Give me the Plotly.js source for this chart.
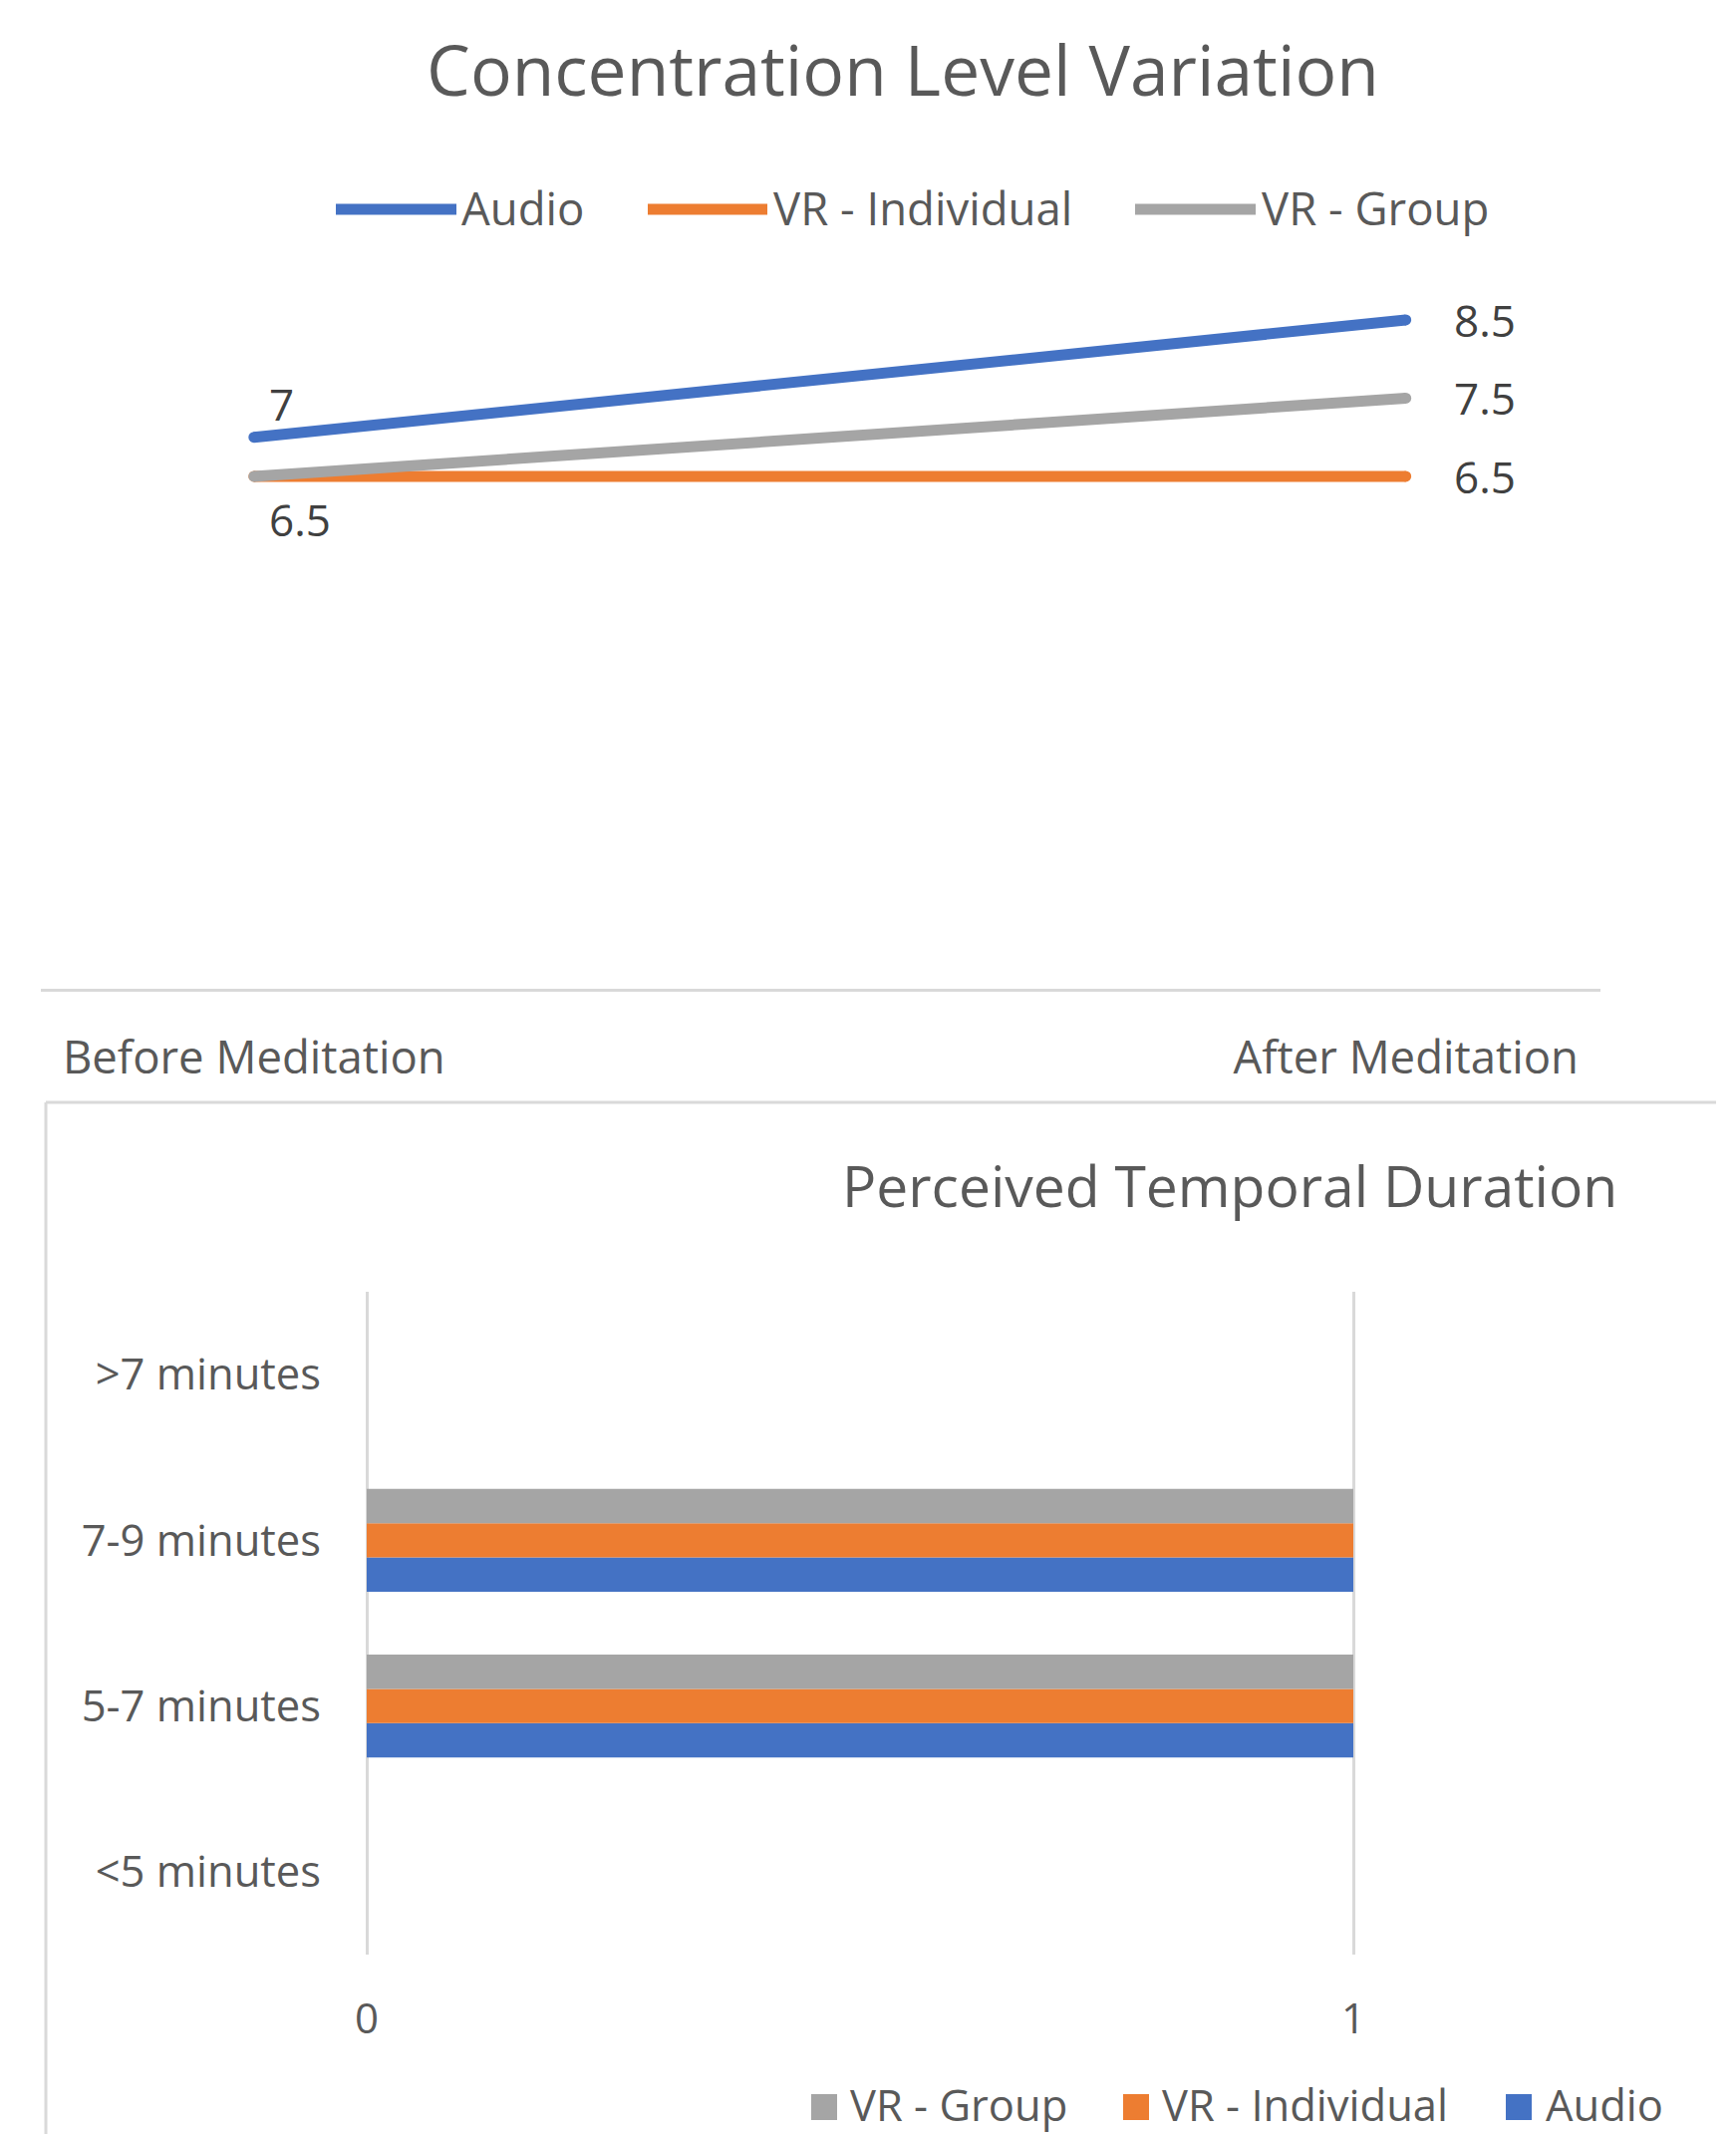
<!DOCTYPE html>
<html>
<head>
<meta charset="utf-8">
<script src="https://cdn.plot.ly/plotly-3.0.1.min.js"></script>
<style>html,body{margin:0;padding:0;background:#fff;}</style>
</head>
<body>
<div id="chart" style="width:1742px;height:2141px;"></div>
<script>
// ---------- data ----------
const seriesNames = ["Audio", "VR - Individual", "VR - Group"];
const seriesColors = ["#4472C4", "#ED7D31", "#A5A5A5"];

const stageCategories = ["Before Meditation", "After Meditation"];
const audioConcentration = [7, 8.5];
const vrIndividualConcentration = [6.5, 6.5];
const vrGroupConcentration = [6.5, 7.5];

const durationCategories = ["<5 minutes", "5-7 minutes", "7-9 minutes", ">7 minutes"];
const audioDuration = [0, 1, 1, 0];
const vrIndividualDuration = [0, 1, 1, 0];
const vrGroupDuration = [0, 1, 1, 0];

const durationTicks = [0, 1];

// ---------- helpers ----------
const W = 1742, H = 2141;
const px = x => x / W;
const py = y => 1 - y / H;
const FONT = "Open Sans, Noto Sans, sans-serif";
const TXT = "#595959";
const LBL = "#404040";
const GRID = "#D9D9D9";

const concSeries = [audioConcentration, vrIndividualConcentration, vrGroupConcentration];
const durSeries = [audioDuration, vrIndividualDuration, vrGroupDuration];

const traces = [];
concSeries.forEach((vals, i) => {
  traces.push({
    type: "scatter", mode: "lines+markers",
    x: stageCategories, y: vals, name: seriesNames[i],
    line: {color: seriesColors[i], width: 11},
    marker: {color: seriesColors[i], size: 11},
    xaxis: "x", yaxis: "y", showlegend: false, hoverinfo: "x+y+name"
  });
});
durSeries.forEach((vals, i) => {
  traces.push({
    type: "bar", orientation: "h",
    y: durationCategories, x: vals, name: seriesNames[i],
    marker: {color: seriesColors[i], line: {width: 0}},
    xaxis: "x2", yaxis: "y2", showlegend: false
  });
});

// data labels (positions from the series arrays through axes)
const annotations = [];
const labelShow = [[true, true], [true, true], [false, true]];
const startShift = [[13, 34], [13, -43], [13, 0]];
concSeries.forEach((vals, i) => {
  vals.forEach((v, j) => {
    if (!labelShow[i][j]) return;
    annotations.push({
      xref: "x", yref: "y", x: stageCategories[j], y: v,
      text: String(v), showarrow: false,
      xanchor: "left", yanchor: "middle",
      xshift: j === 0 ? startShift[i][0] : 46,
      yshift: j === 0 ? startShift[i][1] : 0,
      font: {family: FONT, size: 44, color: LBL}
    });
  });
});

// bottom chart title
annotations.push({
  xref: "paper", yref: "paper", x: px(1234), y: py(1189),
  xanchor: "center", yanchor: "middle", showarrow: false,
  text: "Perceived Temporal Duration",
  font: {family: FONT, size: 57, color: TXT}
});

// custom legends
const shapes = [];
const topLegendLine = [[337, 458], [650, 770], [1139, 1260]];
const topLegendText = [461, 774, 1264];
seriesNames.forEach((n, i) => {
  shapes.push({
    type: "line", xref: "paper", yref: "paper",
    x0: px(topLegendLine[i][0]), x1: px(topLegendLine[i][1]),
    y0: py(210), y1: py(210),
    line: {color: seriesColors[i], width: 11}
  });
  annotations.push({
    xref: "paper", yref: "paper", x: px(topLegendText[i]), y: py(208),
    xanchor: "left", yanchor: "middle", showarrow: false, text: n,
    font: {family: FONT, size: 45.5, color: TXT}
  });
});
// bottom legend: order VR - Group, VR - Individual, Audio
const bottomOrder = [2, 1, 0];
const bottomSquare = [814, 1127, 1511];
const bottomText = [851, 1164, 1549];
bottomOrder.forEach((si, k) => {
  shapes.push({
    type: "rect", xref: "paper", yref: "paper",
    x0: px(bottomSquare[k]), x1: px(bottomSquare[k] + 26),
    y0: py(2101), y1: py(2127),
    fillcolor: seriesColors[si], line: {width: 0}
  });
  annotations.push({
    xref: "paper", yref: "paper", x: px(bottomText[k]), y: py(2111),
    xanchor: "left", yanchor: "middle", showarrow: false, text: seriesNames[si],
    font: {family: FONT, size: 43.5, color: TXT}
  });
});

// frame of the lower chart
shapes.push({type: "line", xref: "paper", yref: "paper",
  x0: px(46), x1: px(1722), y0: py(1106), y1: py(1106), line: {color: GRID, width: 3}});
shapes.push({type: "line", xref: "paper", yref: "paper",
  x0: px(46), x1: px(46), y0: py(1106), y1: py(2141), line: {color: GRID, width: 3}});

const layout = {
  width: W, height: H,
  margin: {l: 0, r: 0, t: 0, b: 0, pad: 0},
  paper_bgcolor: "#fff", plot_bgcolor: "rgba(0,0,0,0)",
  font: {family: FONT, color: TXT},
  showlegend: false,
  title: {
    text: "Concentration Level Variation",
    xref: "paper", yref: "paper", x: px(906), y: py(72),
    xanchor: "center", yanchor: "middle",
    font: {family: FONT, size: 69.5, color: TXT}
  },
  xaxis: {
    domain: [px(41), px(1606)], anchor: "y",
    type: "category", categoryorder: "array", categoryarray: stageCategories,
    range: [-0.185, 1.169],
    showgrid: false, zeroline: false,
    showline: true, linecolor: GRID, linewidth: 3,
    ticks: "", ticklabelstandoff: 27,
    tickfont: {family: FONT, size: 45.5, color: TXT}
  },
  yaxis: {
    domain: [py(992), py(203)], anchor: "x",
    range: [-0.048, 10.003],
    visible: false, showgrid: false, zeroline: false
  },
  xaxis2: {
    domain: [px(364.04), px(1361.96)], anchor: "y2",
    range: [-0.004, 1.004],
    tickmode: "array", tickvals: durationTicks, ticktext: durationTicks.map(String),
    showgrid: true, gridcolor: GRID, gridwidth: 3,
    zeroline: false, showline: false, ticks: "",
    ticklabelstandoff: 36,
    tickfont: {family: FONT, size: 42, color: TXT}
  },
  yaxis2: {
    domain: [py(1961), py(1296)], anchor: "x2",
    type: "category", categoryorder: "array", categoryarray: durationCategories,
    range: [-0.5, 3.5],
    showgrid: false, zeroline: false, showline: false, ticks: "",
    ticklabelstandoff: 41,
    tickfont: {family: FONT, size: 43.5, color: TXT}
  },
  barmode: "group", bargap: 0.378, bargroupgap: 0,
  annotations: annotations,
  shapes: shapes
};

Plotly.newPlot("chart", traces, layout, {staticPlot: true, displayModeBar: false});
</script>
</body>
</html>
